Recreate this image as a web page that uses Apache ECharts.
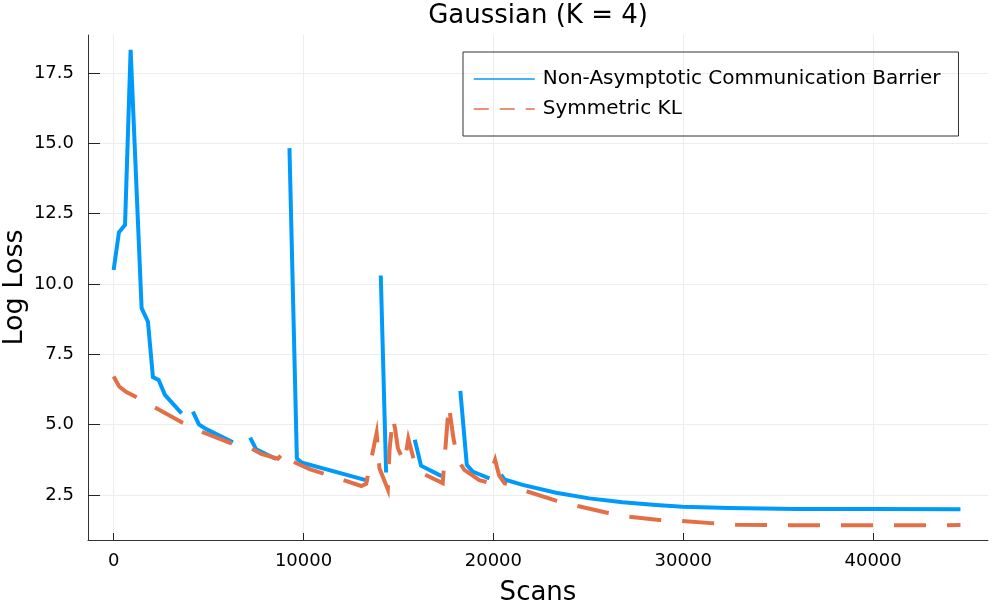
<!DOCTYPE html>
<html>
<head>
    <meta charset="utf-8" />
    <title>Gaussian (K = 4)</title>
    <script src="https://cdn.jsdelivr.net/npm/echarts@6.0.0/dist/echarts.min.js"></script>
</head>
<body style="margin: 0; background: #fff">
<div id="main" style="width: 1000px; height: 600px"></div>
    <script type="text/javascript">
        // values
        var barrierScans = [0, 280, 600, 895, 1474, 1807, 2070, 2370, 2700, 3580, 3900,
            4175, 4490, 4880, 6280, 6700,
            7190, 7510, 8560, 8900,
            9260, 9650, 9880, 13430, 13700,
            14070, 14350, 15000,
            15860, 16190, 17270, 17800,
            18260, 18600, 18910, 19350, 19790, 20100,
            20400, 20580, 21540, 23300, 25050, 26800, 28560, 29960, 32420, 35930, 39960, 44600];
        var barrierLoss = [10.5, 11.84, 12.1, 18.32, 9.14, 8.66, 6.69, 6.59, 6.06, 5.4, null,
            5.46, 5.01, 4.84, 4.37, null,
            4.54, 4.12, 3.78, null,
            14.83, 3.8, 3.66, 3.0, null,
            10.3, 3.3, null,
            4.46, 3.54, 3.17, null,
            6.2, 3.57, 3.33, 3.21, 3.09, null,
            3.22, 3.05, 2.86, 2.58, 2.38, 2.24, 2.14, 2.08, 2.04, 2.0, 2.0, 1.99];

        var klScans = [0, 300, 650, 1230, 3630, 4610, 6190, 7250, 7770, 8650, 9050, 9400,
            10350, 11540, 13040, 13300, 13850, 14000, 14440, 14530, 14700, 14820, 14970, 15230,
            15320, 15520, 15790, 16190, 17330, 17650, 17900, 18120, 18470, 19260, 19700,
            20090, 20300, 20580, 21720, 23300, 24440, 25930, 27160, 28740, 29880, 31460,
            32770, 35000, 38000, 41000, 44600];
        var klLoss = [6.71, 6.35, 6.17, 5.97, 5.07, 4.75, 4.34, 4.16, 3.96, 3.79, 4.07, 3.7,
            3.41, 3.16, 2.82, 2.9, 4.7, 3.45, 2.7, 4.1, 5.25, 4.87, 4.16, 3.77,
            3.65, 4.5, 3.8, 3.29, 2.92, 5.7, 4.5, 3.77, 3.39, 3.03, 2.95,
            3.75, 3.2, 2.92, 2.64, 2.3, 2.11, 1.88, 1.73, 1.61, 1.58, 1.5,
            1.44, 1.43, 1.42, 1.42, 1.43];

        var xTicks = [0, 10000, 20000, 30000, 40000];
        var yTicks = [2.5, 5.0, 7.5, 10.0, 12.5, 15.0, 17.5];

        function pairs(xs, ys) {
            var out = [];
            for (var i = 0; i < xs.length; i++) {
                out.push([xs[i], ys[i] === null ? '-' : ys[i]]);
            }
            return out;
        }

        var font = 'DejaVu Sans';
        var myChart = echarts.init(document.getElementById('main'));
        myChart.setOption({
            animation: false,
            backgroundColor: '#fff',
            title: {
                text: 'Gaussian (K = 4)',
                left: 538,
                top: 3,
                padding: 0,
                textAlign: 'center',
                textStyle: { fontFamily: font, fontSize: 26, fontWeight: 'normal', color: '#000' }
            },
            grid: { left: 88, right: 12, top: 35, bottom: 60, outerBoundsMode: 'none', containLabel: false },
            legend: {
                show: true,
                left: 463,
                top: 52,
                right: 'auto',
                bottom: 'auto',
                orient: 'vertical',
                align: 'left',
                borderColor: '#333',
                borderWidth: 1,
                borderRadius: 0,
                padding: [17, 18, 17, 10],
                itemWidth: 61,
                itemHeight: 2,
                itemGap: 10,
                itemStyle: { opacity: 0 },
                textStyle: { fontFamily: font, fontSize: 20, color: '#000', lineHeight: 20, padding: [0, 0, 0, 3] },
                data: [
                    { name: 'Non-Asymptotic Communication Barrier', itemStyle: { opacity: 0 }, lineStyle: { width: 1.5, opacity: 1 } },
                    { name: 'Symmetric KL', itemStyle: { opacity: 0 }, lineStyle: { width: 1.5, opacity: 1, type: [15, 11] } }
                ]
            },
            xAxis: {
                type: 'value',
                min: -1350,
                max: 46050,
                name: 'Scans',
                nameLocation: 'middle',
                nameGap: 40,
                nameMoveOverlap: false,
                nameTextStyle: { fontFamily: font, fontSize: 26, color: '#000' },
                axisLine: { show: true, onZero: false, lineStyle: { color: '#333', width: 1 } },
                axisTick: { show: true, inside: true, length: 7, customValues: xTicks, lineStyle: { color: '#222' } },
                axisLabel: {
                    customValues: xTicks, margin: 12, fontFamily: font, fontSize: 18, color: '#000',
                    formatter: function (v) { return String(v); }
                },
                splitLine: { show: true, lineStyle: { color: '#ededed', width: 1 } }
            },
            yAxis: {
                type: 'value',
                min: 0.9,
                max: 18.85,
                name: 'Log Loss',
                nameLocation: 'middle',
                nameGap: 60,
                nameMoveOverlap: false,
                nameTextStyle: { fontFamily: font, fontSize: 27, color: '#000' },
                axisLine: { show: true, onZero: false, lineStyle: { color: '#333', width: 1 } },
                axisTick: { show: true, inside: true, length: 12, customValues: yTicks, lineStyle: { color: '#222' } },
                axisLabel: {
                    customValues: yTicks, margin: 14, fontFamily: font, fontSize: 18, color: '#000',
                    formatter: function (v) { return v.toFixed(1); }
                },
                splitLine: { show: true, lineStyle: { color: '#ededed', width: 1 } }
            },
            series: [
                {
                    name: 'Non-Asymptotic Communication Barrier',
                    type: 'line',
                    data: pairs(barrierScans, barrierLoss),
                    showSymbol: false,
                    symbol: 'none',
                    connectNulls: false,
                    color: '#009AFA',
                    lineStyle: { color: '#009AFA', width: 4, cap: 'butt', join: 'miter' }
                },
                {
                    name: 'Symmetric KL',
                    type: 'line',
                    data: pairs(klScans, klLoss),
                    showSymbol: false,
                    symbol: 'none',
                    color: '#E36F47',
                    lineStyle: { color: '#E36F47', width: 4, type: [32, 21], cap: 'butt', join: 'miter' }
                }
            ]
        });
    </script>
</body>
</html>
